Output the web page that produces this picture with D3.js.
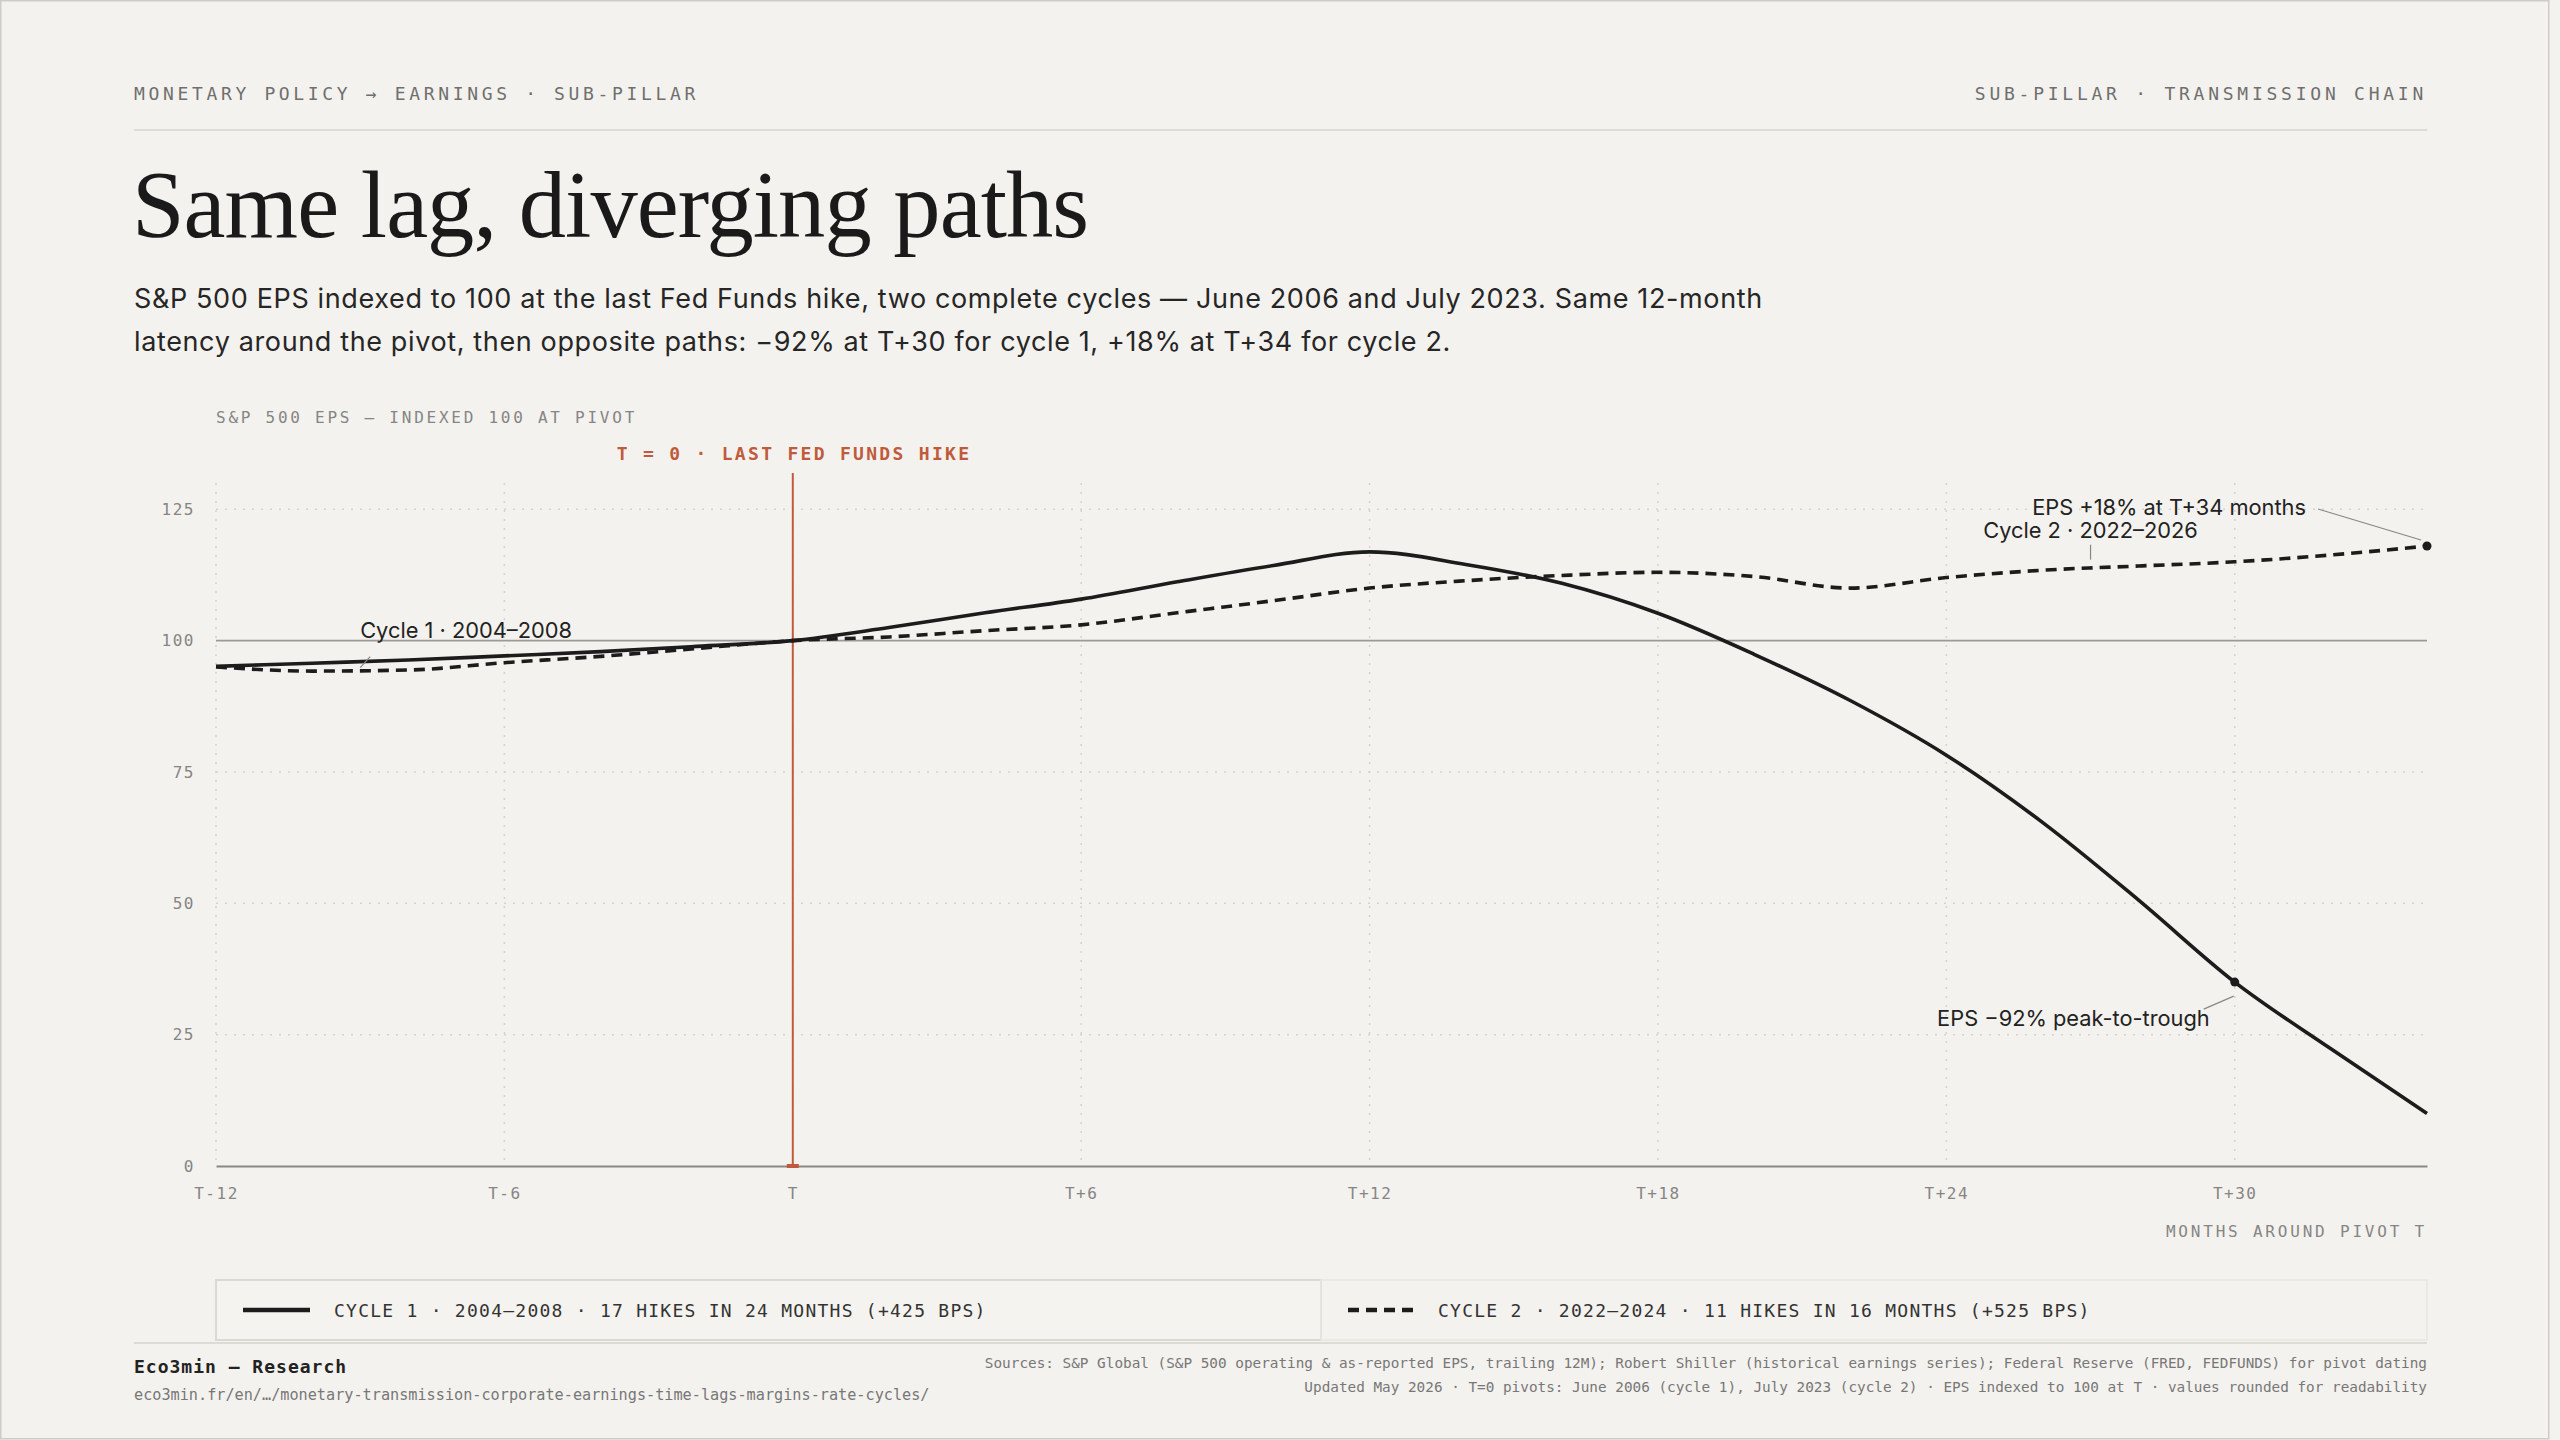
<!DOCTYPE html>
<html>
<head>
<meta charset="utf-8">
<script src="https://cdn.jsdelivr.net/npm/d3@7/dist/d3.min.js"></script>
<style>
  html, body { margin: 0; padding: 0; background: #f4f2ee; }
  svg { display: block; }
  .mono { font-family: "DejaVu Sans Mono", "Liberation Mono", monospace; }
  .sans { font-family: Inter, "Noto Sans", sans-serif; }
  .serif { font-family: "Liberation Serif", "DejaVu Serif", serif; }
</style>
</head>
<body>
<svg id="chart" width="2560" height="1440"></svg>
<script>
// ---------- DATA ----------
const months = [-12,-10,-8,-6,-4,-2,0,2,4,6,8,10,12,14,16,18,20,22,24,26,28,30,32,34];
const cycle1 = [95.1,95.7,96.3,97.1,97.9,98.9,100,102.5,105.3,107.9,111.2,114.3,116.9,114.5,110.9,105.2,97.4,88.6,78.2,65.4,50.6,35.0,22.3,10.0];
const cycle2 = [95.0,94.2,94.4,95.8,97.0,98.5,100,100.7,101.9,103.0,105.3,107.6,110.0,111.4,112.4,113.0,112.2,110.0,112.0,113.4,114.2,115.0,116.3,118.0];
const xTickValues = [-12,-6,0,6,12,18,24,30];
const xTickLabels = ["T-12","T-6","T","T+6","T+12","T+18","T+24","T+30"];
const yTickValues = [0,25,50,75,100,125];
const seriesNames = ["Cycle 1 · 2004–2008", "Cycle 2 · 2022–2026"];
const legendLabels = [
  "CYCLE 1 · 2004–2008 · 17 HIKES IN 24 MONTHS (+425 BPS)",
  "CYCLE 2 · 2022–2024 · 11 HIKES IN 16 MONTHS (+525 BPS)"
];

// ---------- LAYOUT ----------
const W = 2560, H = 1440;
const L = 216, R = 2427, T = 483, B = 1166, LM = 134;
const ink = "#1c1c1c", rust = "#bf5b3c", rule = "#dedbd4";

const svg = d3.select("#chart");
svg.append("rect").attr("x",0.75).attr("y",0.75).attr("width",2548).attr("height",1438)
  .attr("fill","#f4f2ee").attr("stroke","#cfccc5").attr("stroke-width",1.5);

const x = d3.scaleLinear().domain([-12,34]).range([L,R]);
const y = d3.scaleLinear().domain([0,130]).range([B,T]);

// Header
svg.append("text").attr("class","mono").attr("x",LM).attr("y",100)
  .attr("font-size",18).attr("letter-spacing",3.65).attr("fill","#6f6f6f")
  .text("MONETARY POLICY → EARNINGS · SUB-PILLAR");
svg.append("text").attr("class","mono").attr("x",R).attr("y",100)
  .attr("text-anchor","end")
  .attr("font-size",18).attr("letter-spacing",3.75).attr("fill","#6f6f6f")
  .text("SUB-PILLAR · TRANSMISSION CHAIN");
svg.append("line").attr("x1",LM).attr("x2",R).attr("y1",130).attr("y2",130)
  .attr("stroke",rule).attr("stroke-width",2);

svg.append("text").attr("class","serif").attr("x",LM-2).attr("y",237)
  .attr("font-size",94.5).attr("letter-spacing",-0.95).attr("fill","#1a1a1a")
  .text("Same lag, diverging paths");

const sub = svg.append("text").attr("class","sans").attr("font-size",27).attr("letter-spacing",0.63).attr("fill","#262626");
sub.append("tspan").attr("x",LM).attr("y",308)
  .text("S&P 500 EPS indexed to 100 at the last Fed Funds hike, two complete cycles — June 2006 and July 2023. Same 12-month");
sub.append("tspan").attr("x",LM).attr("y",351)
  .text("latency around the pivot, then opposite paths: −92% at T+30 for cycle 1, +18% at T+34 for cycle 2.");

// Axis title
svg.append("text").attr("class","mono").attr("x",L).attr("y",423)
  .attr("font-size",16).attr("letter-spacing",2.75).attr("fill","#858585")
  .text("S&P 500 EPS — INDEXED 100 AT PIVOT");

// Grid
const grid = svg.append("g");
grid.selectAll("line.h").data(yTickValues.filter(v => v !== 0 && v !== 100)).join("line")
  .attr("x1",L).attr("x2",R).attr("y1",d=>y(d)).attr("y2",d=>y(d))
  .attr("stroke","#d6d3cc").attr("stroke-width",1.5).attr("stroke-dasharray","2,7");
grid.selectAll("line.v").data(xTickValues).join("line")
  .attr("x1",d=>x(d)).attr("x2",d=>x(d)).attr("y1",T).attr("y2",B)
  .attr("stroke","#d6d3cc").attr("stroke-width",1.5).attr("stroke-dasharray","2,7");
svg.append("line").attr("x1",L).attr("x2",R).attr("y1",y(100)).attr("y2",y(100))
  .attr("stroke","#9c9a96").attr("stroke-width",1.8);

// Axes
const xAxis = d3.axisBottom(x).tickValues(xTickValues)
  .tickFormat((d,i) => xTickLabels[i]).tickSize(0).tickPadding(22);
const gx = svg.append("g").attr("transform",`translate(0,${B})`).call(xAxis);
gx.select(".domain").attr("stroke","#8a8886").attr("stroke-width",2);
gx.selectAll("text").attr("class","mono").attr("font-size",16).attr("letter-spacing",1.5)
  .attr("fill","#858585").attr("font-family",null);

const yAxis = d3.axisLeft(y).tickValues(yTickValues).tickSize(0).tickPadding(21);
const gy = svg.append("g").attr("transform",`translate(${L},0)`).call(yAxis);
gy.select(".domain").remove();
gy.selectAll("text").attr("class","mono").attr("font-size",16).attr("letter-spacing",1.5)
  .attr("fill","#858585").attr("font-family",null);

svg.append("text").attr("class","mono").attr("x",R).attr("y",1237).attr("text-anchor","end")
  .attr("font-size",16).attr("letter-spacing",2.8).attr("fill","#858585")
  .text("MONTHS AROUND PIVOT T");

// Pivot line
svg.append("line").attr("x1",x(0)).attr("x2",x(0)).attr("y1",T-10).attr("y2",B)
  .attr("stroke",rust).attr("stroke-width",2);
svg.append("rect").attr("x",x(0)-6).attr("y",B-2).attr("width",12).attr("height",4).attr("fill",rust);
svg.append("text").attr("class","mono").attr("x",x(0)+1.2).attr("y",460).attr("text-anchor","middle")
  .attr("font-size",18).attr("font-weight","bold").attr("letter-spacing",2.3).attr("fill",rust)
  .text("T = 0 · LAST FED FUNDS HIKE");

// Lines
const line = d3.line().x(d=>x(d[0])).y(d=>y(d[1])).curve(d3.curveMonotoneX);
const s1 = months.map((m,i)=>[m,cycle1[i]]);
const s2 = months.map((m,i)=>[m,cycle2[i]]);
svg.append("path").datum(s2).attr("d",line).attr("fill","none")
  .attr("stroke",ink).attr("stroke-width",3.6).attr("stroke-dasharray","11,7");
svg.append("path").datum(s1).attr("d",line).attr("fill","none")
  .attr("stroke",ink).attr("stroke-width",3.6);

// Annotations
const ann = svg.append("g").attr("class","sans").attr("font-size",21.8).attr("fill","#222");
const leader = (x1,y1,x2,y2) => svg.append("line").attr("x1",x1).attr("y1",y1).attr("x2",x2).attr("y2",y2)
  .attr("stroke","#8a8886").attr("stroke-width",1.2);

ann.append("text").attr("x",x(-9)).attr("y",y(100)-3).text(seriesNames[0]);
leader(x(-9)+10, y(100)+16, x(-9), y(100)+27);

const m27 = 27;
ann.append("text").attr("x",x(m27)).attr("y",y(113.7)-31).attr("text-anchor","middle").text(seriesNames[1]);
leader(x(m27), y(113.7)-24, x(m27), y(113.7)-9);

const end2 = s2[s2.length-1];
svg.append("circle").attr("cx",x(end2[0])).attr("cy",y(end2[1])).attr("r",4.5).attr("fill",ink);
ann.append("text").attr("x",x(end2[0])-121).attr("y",y(end2[1])-31).attr("text-anchor","end")
  .text("EPS +18% at T+34 months");
leader(x(end2[0])-109, y(end2[1])-37, x(end2[0])-6, y(end2[1])-6);

const p30 = s1[months.indexOf(30)];
svg.append("circle").attr("cx",x(p30[0])).attr("cy",y(p30[1])).attr("r",4.5).attr("fill",ink);
ann.append("text").attr("x",x(p30[0])-25).attr("y",y(p30[1])+44).attr("text-anchor","end")
  .text("EPS −92% peak-to-trough");
leader(x(p30[0])-31, y(p30[1])+27, x(p30[0])-1, y(p30[1])+14);

// Legend
const lg = svg.append("g");
const cellX = [L, 1321, R];
lg.append("rect").attr("x",cellX[0]).attr("y",1280).attr("width",cellX[1]-cellX[0]).attr("height",60)
  .attr("fill","#f5f3ef").attr("stroke","#dcd9d2").attr("stroke-width",2);
lg.append("rect").attr("x",cellX[1]).attr("y",1280).attr("width",cellX[2]-cellX[1]).attr("height",60)
  .attr("fill","none").attr("stroke","#e9e6e0").attr("stroke-width",1.5);
lg.append("line").attr("x1",243).attr("x2",310).attr("y1",1310).attr("y2",1310)
  .attr("stroke",ink).attr("stroke-width",4.5);
lg.append("text").attr("class","mono").attr("x",334).attr("y",1316.5)
  .attr("font-size",18).attr("letter-spacing",1.25).attr("fill","#333").text(legendLabels[0]);
lg.append("line").attr("x1",1348).attr("x2",1415).attr("y1",1310).attr("y2",1310)
  .attr("stroke",ink).attr("stroke-width",4.5).attr("stroke-dasharray","11,7");
lg.append("text").attr("class","mono").attr("x",1438).attr("y",1316.5)
  .attr("font-size",18).attr("letter-spacing",1.25).attr("fill","#333").text(legendLabels[1]);

// Footer
svg.append("line").attr("x1",LM).attr("x2",R).attr("y1",1343).attr("y2",1343)
  .attr("stroke",rule).attr("stroke-width",2);
svg.append("text").attr("class","mono").attr("x",LM).attr("y",1373)
  .attr("font-size",18).attr("font-weight","bold").attr("letter-spacing",1).attr("fill","#222")
  .text("Eco3min — Research");
svg.append("text").attr("class","mono").attr("x",LM).attr("y",1400)
  .attr("font-size",15.2).attr("fill","#777")
  .text("eco3min.fr/en/…/monetary-transmission-corporate-earnings-time-lags-margins-rate-cycles/");
svg.append("text").attr("class","mono").attr("x",R).attr("y",1368).attr("text-anchor","end")
  .attr("font-size",14.35).attr("fill","#777")
  .text("Sources: S&P Global (S&P 500 operating & as-reported EPS, trailing 12M); Robert Shiller (historical earnings series); Federal Reserve (FRED, FEDFUNDS) for pivot dating");
svg.append("text").attr("class","mono").attr("x",R).attr("y",1392).attr("text-anchor","end")
  .attr("font-size",14.35).attr("fill","#777")
  .text("Updated May 2026 · T=0 pivots: June 2006 (cycle 1), July 2023 (cycle 2) · EPS indexed to 100 at T · values rounded for readability");
</script>
</body>
</html>
